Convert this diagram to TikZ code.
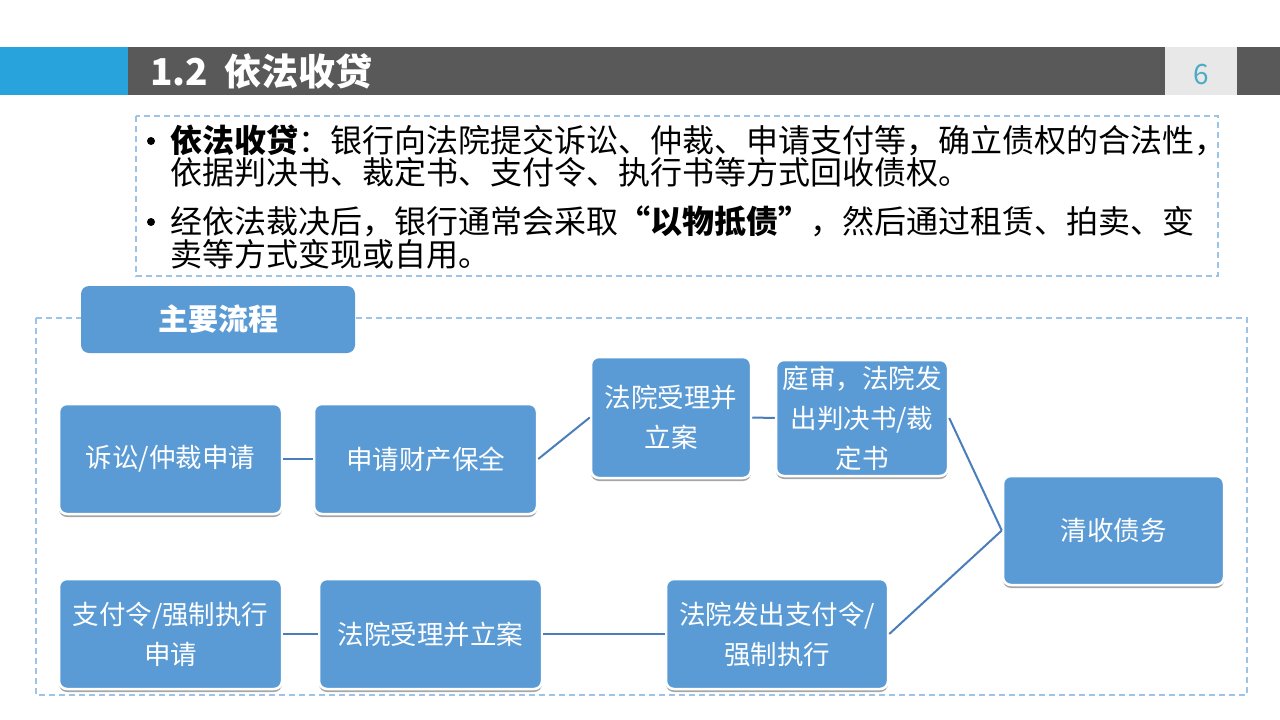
\documentclass[tikz,border=0pt]{standalone}
\usepackage{fontspec}
\setmainfont{Noto Sans CJK SC}
\usetikzlibrary{shadows}
\definecolor{boxblue}{HTML}{5B9BD5}
\definecolor{linkblue}{HTML}{4A7EBB}
\definecolor{hdrblue}{HTML}{29A3DC}
\definecolor{hdrgrey}{HTML}{595959}
\definecolor{pagegrey}{HTML}{E8E8E8}
\definecolor{pagenum}{HTML}{4BACC6}
\definecolor{dashblue}{HTML}{9DC3E6}
\tikzset{
  flowbox/.style={draw=white, line width=2.5pt, fill=boxblue, rounded corners=8pt,
    text=white, font=\fontsize{26.5}{40}\selectfont, align=center, inner sep=0pt,
    drop shadow={shadow xshift=0pt, shadow yshift=-3pt, opacity=0.35, fill=black}},
  conn/.style={draw=linkblue, line width=2pt},
  dashframe/.style={draw=dashblue, line width=1.2pt, dash pattern=on 6pt off 4pt},
  bodyline/.style={anchor=west, inner sep=0pt, font=\fontsize{32}{34}\selectfont, text=black},
  bulletdot/.style={circle, fill=black, inner sep=0pt, minimum size=8pt}
}
\begin{document}
\begin{tikzpicture}[x=1pt,y=-1pt]
\useasboundingbox (0,0) rectangle (1280,720);
\fill[white] (0,0) rectangle (1280,720);
% header
\fill[hdrblue] (0,47) rectangle (128,95);
\fill[hdrgrey] (128,47) rectangle (1280,95);
\fill[pagegrey] (1165,47) rectangle (1237,95);
\node[anchor=west, inner sep=0pt, text=white, font=\fontsize{37}{37}\selectfont\bfseries] (title) at (150,71) {1.2\hspace{16pt}依法收贷};
\node[inner sep=0pt, text=pagenum, font=\fontsize{28}{28}\selectfont] (pnum) at (1201,75) {6};
% upper text frame
\draw[dashframe] (136,116) rectangle (1218,276);
\node[bulletdot] (b1) at (151,141) {};
\node[bodyline] (l1) at (170,140) {\textbf{依法收贷}：银行向法院提交诉讼、仲裁、申请支付等，确立债权的合法性，};
\node[bodyline] (l2) at (170,172) {依据判决书、裁定书、支付令、执行书等方式回收债权。};
\node[bulletdot] (b2) at (151,222) {};
\node[bodyline] (l3) at (170,221) {经依法裁决后，银行通常会采取\textbf{“以物抵债”}，然后通过租赁、拍卖、变};
\node[bodyline] (l4) at (170,254) {卖等方式变现或自用。};
% lower frame
\draw[dashframe] (36,318) rectangle (1247,695);
\node[fill=boxblue, rounded corners=8pt, minimum width=274pt, minimum height=67pt, inner sep=0pt,
  text=white, font=\fontsize{30}{30}\selectfont\bfseries] (head) at (218,319.5) {主要流程};
% flow boxes
\node[flowbox, minimum width=223pt, minimum height=110pt] (n1) at (170.5,459) {诉讼/仲裁申请};
\node[flowbox, minimum width=223pt, minimum height=110pt] (n2) at (425.5,459) {申请财产保全};
\node[flowbox, minimum width=160pt, minimum height=121pt] (n3) at (671,417.5) {法院受理并\\立案};
\node[flowbox, minimum width=172pt, minimum height=116pt] (n4) at (862,418) {庭审，法院发\\出判决书/裁\\定书};
\node[flowbox, minimum width=221pt, minimum height=109pt] (n5) at (1113.5,530.5) {清收债务};
\node[flowbox, minimum width=223pt, minimum height=110pt] (n6) at (170.5,634) {支付令/强制执行\\申请};
\node[flowbox, minimum width=223pt, minimum height=110pt] (n7) at (430.5,634) {法院受理并立案};
\node[flowbox, minimum width=222pt, minimum height=110pt] (n8) at (777,634) {法院发出支付令/\\强制执行};
% connectors
\draw[conn] (n1.east) -- (n2.west);
\draw[conn] (n2.east) -- (n3.west);
\draw[conn] (n3.east) -- (n4.west);
\draw[conn] (n4.east) -- (n5.west);
\draw[conn] (n6.east) -- (n7.west);
\draw[conn] (n7.east) -- (n8.west);
\draw[conn] (n8.east) -- (n5.west);
\end{tikzpicture}
\end{document}
